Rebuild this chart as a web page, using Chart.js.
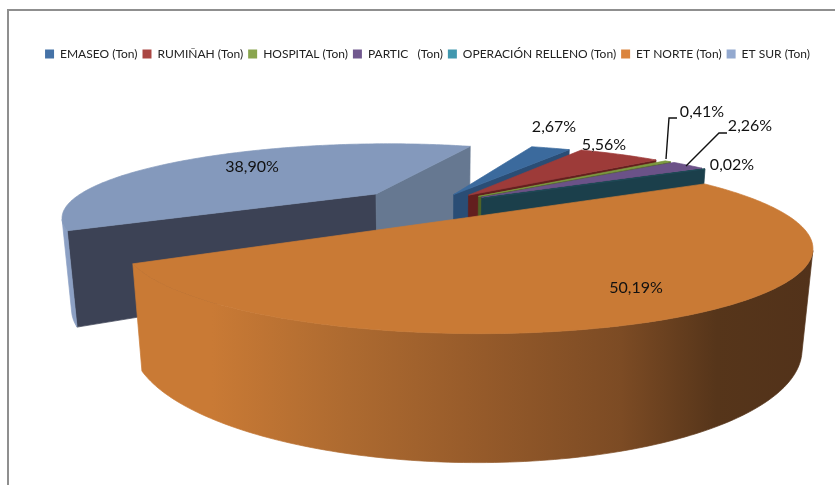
<!DOCTYPE html>
<html>
<head>
<meta charset="utf-8">
<script src="https://cdn.jsdelivr.net/npm/chart.js@4"></script>
<style>
  html, body { margin: 0; background: #fff; }
  #wrap { position: relative; width: 835px; height: 485px; overflow: hidden; }
  #frame { position: absolute; left: 7px; top: 9px; width: 840px; height: 490px;
           border-left: 2px solid #8f8f8f; border-top: 2px solid #8f8f8f; }
  canvas { position: absolute; left: 0; top: 0; }
</style>
</head>
<body>
<div id="wrap">
  <div id="frame"></div>
  <canvas id="myChart" width="835" height="485"></canvas>
</div>
<script>
const categories = ['EMASEO (Ton)', 'RUMIÑAH (Ton)', 'HOSPITAL (Ton)', 'PARTIC   (Ton)', 'OPERACIÓN RELLENO (Ton)', 'ET NORTE (Ton)', 'ET SUR (Ton)'];
const percents = [2.67, 5.56, 0.41, 2.26, 0.02, 50.19, 38.90];

// colours
const legendColors = ['#4572a7', '#aa4643', '#89a54e', '#71588f', '#4198af', '#db843d', '#93a9cf'];
const topColors = ['#3b6a9d', '#9d3b39', '#7c9a40', '#6b5288', '#1f4a57', '#c97a35', '#8499bc'];
const startFaceColors = ['#2a4d75', '#631f1e', '#4f6327', '#46345c', '#1b3f4b', '#7e4c22', '#3c4255'];
const endFaceColors = ['#2a4d75', '#631f1e', '#4f6327', '#1b3f4b', '#1b3f4b', '#7e4c22', '#667891'];
const rimColors = ['#2a4d75', '#631f1e', '#4f6327', '#46345c', '#1b3f4b', null, '#8ca0c4'];

// how far each slice is pulled out, in pie radii
const explodes = [0.17, 0.19, 0.2, 0.2, 0.2, 0.2, 0.25];

// slices are painted back to front
const paintOrder = [6, 0, 1, 2, 3, 4, 5];

// label anchor for each slice (centre of text)
const labelSpots = [[554, 127], [604, 145], [702, 112], [750, 126], [732, 165], [636, 288], [252, 167]];

const view = { ox: 432, oy: 205, a: 310, b: 71, d: 90, k: 0.3, zs: 0.025 };
const FONT = 'Lato, "Liberation Sans", sans-serif';

function project(u, v, z) {
    const w = 1 + view.k * v + view.zs * z;
    return { x: view.ox + view.a * u / w, y: view.oy - view.b * v / w + view.d * z / w };
}

function facingViewer(p0, p1, p0Low) {
    return (p1.x - p0.x) * (p0Low.y - p0.y) - (p1.y - p0.y) * (p0Low.x - p0.x) < 0;
}

function fillPoly(ctx, pts, color) {
    ctx.beginPath();
    pts.forEach((p, i) => i ? ctx.lineTo(p.x, p.y) : ctx.moveTo(p.x, p.y));
    ctx.closePath();
    ctx.fillStyle = color;
    ctx.strokeStyle = color;
    ctx.lineWidth = 0.7;
    ctx.fill();
    ctx.stroke();
}

function orangeWall(ctx) {
    const g = ctx.createLinearGradient(130, 0, 812, 0);
    g.addColorStop(0, '#c97a35');
    g.addColorStop(0.12, '#c97a35');
    g.addColorStop(0.32, '#ad6a30');
    g.addColorStop(0.52, '#955a2a');
    g.addColorStop(0.72, '#7c4b24');
    g.addColorStop(0.86, '#56351a');
    g.addColorStop(1, '#52321a');
    return g;
}

const pie3d = {
    id: 'pie3d',
    beforeDatasetDraw(chart) {
        const ctx = chart.ctx;
        const arcs = chart.getDatasetMeta(0).data;
        paintOrder.forEach(i => {
            const arc = arcs[i];
            const mid = (arc.startAngle + arc.endAngle) / 2;
            const cu = explodes[i] * Math.cos(mid);
            const cv = -explodes[i] * Math.sin(mid);
            const at = (ang, r, z) => project(cu + r * Math.cos(ang), cv - r * Math.sin(ang), z);

            // cut faces
            const a0 = at(0, 0, 0), a1 = at(0, 0, 1);
            const s0 = at(arc.startAngle, 1, 0), s1 = at(arc.startAngle, 1, 1);
            const e0 = at(arc.endAngle, 1, 0), e1 = at(arc.endAngle, 1, 1);
            if (facingViewer(a0, s0, a1)) fillPoly(ctx, [a0, s0, s1, a1], startFaceColors[i]);
            if (facingViewer(e0, a0, e1)) fillPoly(ctx, [e0, a0, a1, e1], endFaceColors[i]);

            // outer wall, only the part turned to the viewer, as one shape
            const step = (arc.endAngle - arc.startAngle) / Math.max(4, Math.ceil((arc.endAngle - arc.startAngle) * 60));
            const upper = [], lower = [];
            for (let t = arc.startAngle; t < arc.endAngle - 1e-6; t += step) {
                const p0 = at(t, 1, 0), p1 = at(t + step, 1, 0), q0 = at(t, 1, 1), q1 = at(t + step, 1, 1);
                if (facingViewer(p0, p1, q0)) {
                    if (!upper.length) { upper.push(p0); lower.push(q0); }
                    upper.push(p1); lower.push(q1);
                }
            }
            if (upper.length) fillPoly(ctx, upper.concat(lower.reverse()), rimColors[i] || orangeWall(ctx));

            // top
            const top = [a0];
            for (let t = arc.startAngle; t < arc.endAngle; t += step) top.push(at(t, 1, 0));
            top.push(e0);
            fillPoly(ctx, top, topColors[i]);
        });
        return false;
    },
    afterDatasetsDraw(chart) {
        const ctx = chart.ctx;
        // leader lines for the two thin slices
        ctx.strokeStyle = '#111';
        ctx.lineWidth = 1.4;
        ctx.beginPath();
        ctx.moveTo(666, 159); ctx.lineTo(669, 118); ctx.lineTo(677, 118);
        ctx.moveTo(686, 166); ctx.lineTo(719, 133); ctx.lineTo(727, 133);
        ctx.stroke();

        ctx.fillStyle = '#111';
        ctx.font = '16px ' + FONT;
        ctx.textAlign = 'center';
        ctx.textBaseline = 'middle';
        percents.forEach((p, i) => {
            ctx.fillText(p.toFixed(2).replace('.', ',') + '%', labelSpots[i][0], labelSpots[i][1]);
        });
    }
};

new Chart(document.getElementById('myChart'), {
    type: 'pie',
    data: {
        labels: categories,
        datasets: [{
            label: 'Ton',
            data: percents,
            backgroundColor: legendColors,
            borderWidth: 0
        }]
    },
    options: {
        responsive: false,
        animation: false,
        rotation: 20.7,
        layout: { padding: { top: 43, left: 20 } },
        plugins: {
            tooltip: { enabled: false },
            legend: {
                position: 'top',
                labels: {
                    boxWidth: 9,
                    boxHeight: 9,
                    padding: 5,
                    color: '#222',
                    font: { family: FONT, size: 12 }
                }
            }
        }
    },
    plugins: [pie3d]
});
</script>
</body>
</html>
